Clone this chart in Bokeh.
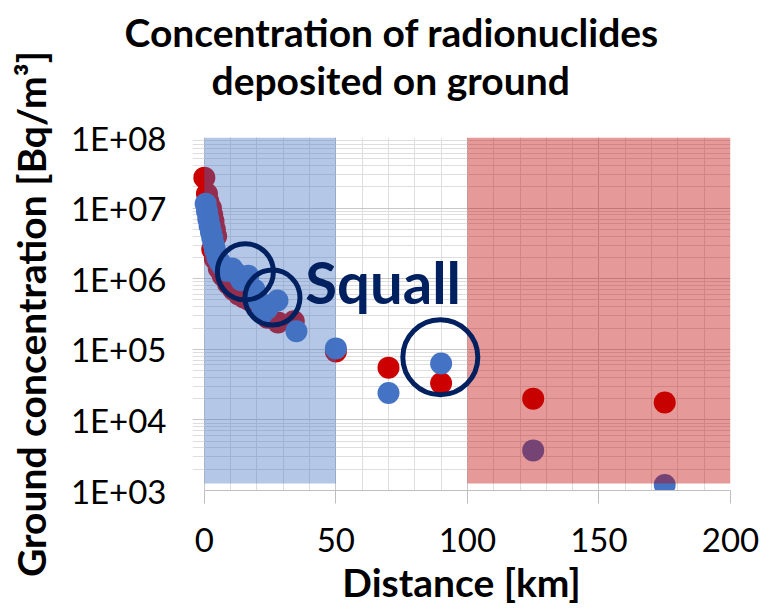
from bokeh.plotting import figure
from bokeh.models import FixedTicker, Label, Range1d, Title
from bokeh.embed import file_html
from bokeh.resources import INLINE

# Ground deposition measurements: distance from source [km] and concentration [Bq/m3]
dist_red = [0, 1, 1.5, 2.5, 3, 3.5, 4, 4.5, 3, 4, 5.5, 7, 9, 11, 13, 15, 17, 18.5,
            21, 24, 28, 34, 50, 70, 90, 125, 175]
conc_red = [2.7e7, 1.6e7, 1.25e7, 1.0e7, 8.0e6, 6.5e6, 5.0e6, 4.0e6, 2.6e6, 1.9e6, 1.4e6,
            1.1e6, 8.5e5, 7.0e5, 6.0e5, 5.4e5, 5.0e5, 4.9e5, 3.6e5, 2.8e5, 2.4e5, 2.5e5,
            9.3e4, 5.5e4, 3.3e4, 2.0e4, 1.76e4]

dist_blue = [0.5, 1, 1.5, 2, 2.5, 3, 3.5, 4, 5, 6, 7, 8.5, 10.5, 12, 14, 16.7, 19, 20.5,
             22, 24, 27.8, 35, 50, 70, 90, 125, 175]
conc_blue = [1.15e7, 9.0e6, 7.0e6, 5.6e6, 4.6e6, 3.8e6, 3.1e6, 2.6e6, 2.0e6, 1.7e6, 1.5e6,
             1.3e6, 1.4e6, 1.2e6, 9.5e5, 1.1e6, 7.0e5, 4.9e5, 3.2e5, 3.8e5, 4.9e5, 1.8e5,
             1.03e5, 2.4e4, 6.3e4, 3.7e3, 1.2e3]

# Shaded distance zones (near field and far field)
zone_left = [0, 100]
zone_right = [50, 200]
zone_bottom = [1.26e3, 1.26e3]
zone_top = [1e8, 1e8]

# Points affected by the squall
squall_dist = [15.6, 25.9, 89.7]
squall_conc = [1.25e6, 5.4e5, 7.7e4]

x_ticks = [0, 50, 100, 150, 200]
x_minor = [10, 20, 30, 40, 60, 70, 80, 90, 110, 120, 130, 140, 160, 170, 180, 190]
y_ticks = [1000, 10000, 100000, 1000000, 10000000, 100000000]
y_tick_labels = ["1E+03", "1E+04", "1E+05", "1E+06", "1E+07", "1E+08"]
y_minor = [k * 10 ** e for e in range(3, 8) for k in range(2, 10)]

RED = "#CC0000"
BLUE = "#4472C4"
NAVY = "#002060"
FONT = "Lato"

p = figure(width=770, height=614, x_range=Range1d(-4.5, 200), y_range=Range1d(1e3, 1e8),
           y_axis_type="log", output_backend="svg", toolbar_location=None, title=None,
           min_border_left=192, min_border_right=40, min_border_top=137,
           min_border_bottom=124)
p.outline_line_color = None
p.background_fill_color = "white"
p.border_fill_color = "white"

# two-line title; panels stack outward from the frame, so a blank spacer goes first
title_style = dict(text_font=FONT, text_font_style="bold", text_font_size="39px",
                   text_color="black", align="left", vertical_align="top", standoff=0)
p.add_layout(Title(text=" ", text_font_size="10px", standoff=20), "above")
p.add_layout(Title(text="deposited on ground", offset=19, **title_style), "above")
p.add_layout(Title(text="Concentration of radionuclides", offset=-68, **title_style),
             "above")

# x axis
xt = FixedTicker(ticks=x_ticks, minor_ticks=x_minor)
p.xaxis.ticker = xt
p.xgrid.ticker = xt
p.xaxis.bounds = (0, 200)
p.xaxis.axis_line_color = "#bfbfbf"
p.xaxis.major_tick_line_color = "#bfbfbf"
p.xaxis.major_tick_out = 13
p.xaxis.major_tick_in = 0
p.xaxis.minor_tick_out = 0
p.xaxis.minor_tick_in = 0
p.xaxis.major_label_text_font = FONT
p.xaxis.major_label_text_font_size = "33px"
p.xaxis.major_label_text_color = "black"
p.xaxis.major_label_standoff = 24
p.xaxis.axis_label = "Distance [km]"
p.xaxis.axis_label_text_font = FONT
p.xaxis.axis_label_text_font_style = "bold"
p.xaxis.axis_label_text_font_size = "39px"
p.xaxis.axis_label_text_color = "black"
p.xaxis.axis_label_standoff = 4

# y axis
yt = FixedTicker(ticks=y_ticks, minor_ticks=y_minor)
p.yaxis.ticker = yt
p.ygrid.ticker = yt
p.yaxis.major_label_overrides = dict(zip(y_ticks, y_tick_labels))
p.yaxis.axis_line_color = None
p.yaxis.major_tick_line_color = None
p.yaxis.minor_tick_line_color = None
p.yaxis.major_tick_out = 0
p.yaxis.major_label_text_font = FONT
p.yaxis.major_label_text_font_size = "33px"
p.yaxis.major_label_text_color = "black"
p.yaxis.major_label_standoff = 22
p.yaxis.axis_label = "Ground concentration [Bq/m³]"
p.yaxis.axis_label_text_font = FONT
p.yaxis.axis_label_text_font_style = "bold"
p.yaxis.axis_label_text_font_size = "39px"
p.yaxis.axis_label_text_color = "black"
p.yaxis.axis_label_standoff = 14

# grid
p.xgrid.grid_line_color = "#c8c8c8"
p.xgrid.minor_grid_line_color = "#dedede"
p.ygrid.grid_line_color = "#c8c8c8"
p.ygrid.minor_grid_line_color = "#dedede"

# measurements
p.scatter(dist_red, conc_red, size=22, fill_color=RED, line_color=None)
p.scatter(dist_blue, conc_blue, size=22, fill_color=BLUE, line_color=None)

# translucent zones over the points
p.quad(left=zone_left[:1], right=zone_right[:1], bottom=zone_bottom[:1], top=zone_top[:1],
       fill_color=BLUE, fill_alpha=0.4, line_color=None)
p.quad(left=zone_left[1:], right=zone_right[1:], bottom=zone_bottom[1:], top=zone_top[1:],
       fill_color="#C00000", fill_alpha=0.4, line_color=None)

# squall rings
p.scatter(squall_dist, squall_conc, size=[56, 55, 75], fill_color=None,
          line_color=NAVY, line_width=5)
p.add_layout(Label(x=38.4, y=9.1e5, text="Squall", text_font=FONT,
                   text_font_style="bold", text_font_size="58px", text_color=NAVY,
                   text_baseline="middle"))

open("out.html", "w").write(file_html(p, INLINE))
